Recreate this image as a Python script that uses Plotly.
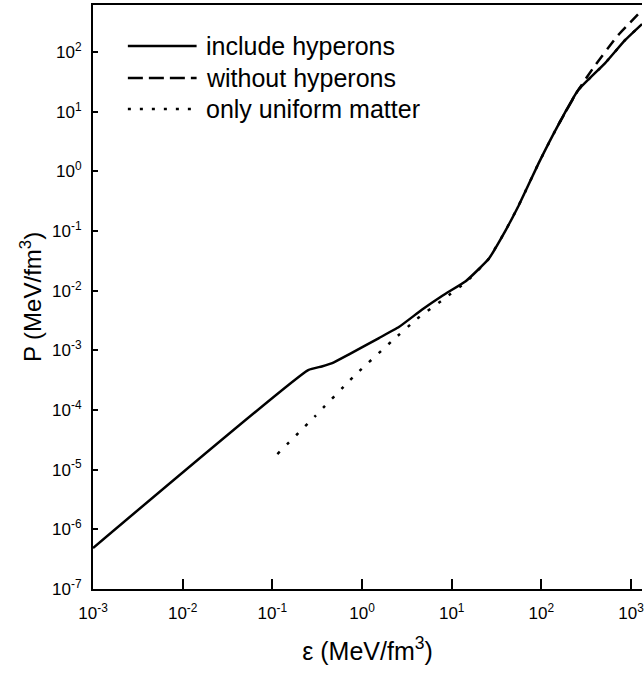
import plotly.graph_objects as go

# include hyperons (solid)
eps_hyp = [1.0e-3, 0.251, 0.355, 0.465, 0.708, 1.107, 1.545, 2.576, 4.645, 7.94,
           14.32, 19.95, 25.76, 39.8, 55.5, 92.7, 154.5, 257.6, 514.0, 857.0, 1324.0]
p_hyp = [4.86e-7, 4.68e-4, 5.37e-4, 6.12e-4, 8.51e-4, 1.227e-3, 1.61e-3, 2.46e-3, 4.79e-3, 8.32e-3,
         1.445e-2, 2.29e-2, 3.39e-2, 0.102, 0.263, 1.349, 6.03, 23.07, 65.3, 158.5, 295.0]

# without hyperons (dashed)
eps_nohyp = [154.5, 257.6, 398.0, 718.0, 1324.0]
p_nohyp = [6.03, 23.07, 60.3, 192.3, 501.0]

# only uniform matter (dotted)
eps_unif = [0.1138, 0.3006, 0.794, 2.153, 4.083, 8.15, 15.07, 25.76, 39.8, 55.5,
            92.7, 154.5, 257.6, 514.0, 857.0, 1324.0]
p_unif = [1.828e-5, 7.93e-5, 3.57e-4, 1.432e-3, 3.35e-3, 7.24e-3, 1.479e-2, 3.39e-2, 0.102, 0.263,
          1.349, 6.03, 23.07, 65.3, 158.5, 295.0]

legend_labels = ["include hyperons", "without hyperons", "only uniform matter"]
x_tickvals = [1e-3, 1e-2, 1e-1, 1e0, 1e1, 1e2, 1e3]
x_ticktext = ["10<sup>-3</sup>", "10<sup>-2</sup>", "10<sup>-1</sup>", "10<sup>0</sup>",
              "10<sup>1</sup>", "10<sup>2</sup>", "10<sup>3</sup>"]
y_tickvals = [1e-7, 1e-6, 1e-5, 1e-4, 1e-3, 1e-2, 1e-1, 1e0, 1e1, 1e2]
y_ticktext = ["10<sup>-7</sup>", "10<sup>-6</sup>", "10<sup>-5</sup>", "10<sup>-4</sup>",
              "10<sup>-3</sup>", "10<sup>-2</sup>", "10<sup>-1</sup>", "10<sup>0</sup>",
              "10<sup>1</sup>", "10<sup>2</sup>"]

FONT = "Liberation Sans, Arial, Helvetica, sans-serif"
LW = 2.5

fig = go.Figure()
fig.add_trace(go.Scatter(x=eps_unif, y=p_unif, mode="lines", name=legend_labels[2],
                         line=dict(color="black", width=LW, dash="3px,10px", shape="spline", smoothing=0.4)))
fig.add_trace(go.Scatter(x=eps_nohyp, y=p_nohyp, mode="lines", name=legend_labels[1],
                         line=dict(color="black", width=LW, dash="11px,7px", shape="spline", smoothing=0.4)))
fig.add_trace(go.Scatter(x=eps_hyp, y=p_hyp, mode="lines", name=legend_labels[0],
                         line=dict(color="black", width=LW, shape="spline", smoothing=0.4)))

# custom legend (long line samples as in reference)
leg_x0, leg_x1, leg_tx = 0.0635, 0.1887, 0.2015
leg_rows = [0.9298, 0.8750, 0.8219]
leg_dash = ["solid", "15px,6px", "3px,9px"]
for lab, yy, dsh in zip(legend_labels, leg_rows, leg_dash):
    fig.add_shape(type="line", xref="paper", yref="paper", x0=leg_x0, x1=leg_x1, y0=yy, y1=yy,
                  line=dict(color="black", width=LW, dash=dsh))
    fig.add_annotation(xref="paper", yref="paper", x=leg_tx, y=yy, text=lab, showarrow=False,
                       xanchor="left", yanchor="middle", font=dict(family=FONT, size=25, color="black"))

fig.update_layout(
    width=644, height=675,
    margin=dict(l=93, r=0, t=5, b=86),
    plot_bgcolor="white", paper_bgcolor="white",
    showlegend=False,
    font=dict(family=FONT, color="black"),
)
fig.update_xaxes(type="log", range=[-3, 3.122], tickvals=x_tickvals, ticktext=x_ticktext,
                 ticks="inside", ticklen=10, tickwidth=2, tickcolor="black",
                 showline=True, linecolor="black", linewidth=2, mirror=True,
                 showgrid=False, zeroline=False, tickfont=dict(size=17),
                 ticklabelstandoff=8, ticklabeloverflow="allow",
                 title=dict(text="ε (MeV/fm<sup>3</sup>)", font=dict(size=25), standoff=20))
fig.update_yaxes(type="log", range=[-7, 2.789], tickvals=y_tickvals, ticktext=y_ticktext,
                 ticks="inside", ticklen=5, tickwidth=2, tickcolor="black",
                 showline=True, linecolor="black", linewidth=2,
                 showgrid=False, zeroline=False, tickfont=dict(size=17),
                 ticklabelstandoff=6,
                 title=dict(text="P (MeV/fm<sup>3</sup>)", font=dict(size=24), standoff=4))

fig.write_html("out.html")
